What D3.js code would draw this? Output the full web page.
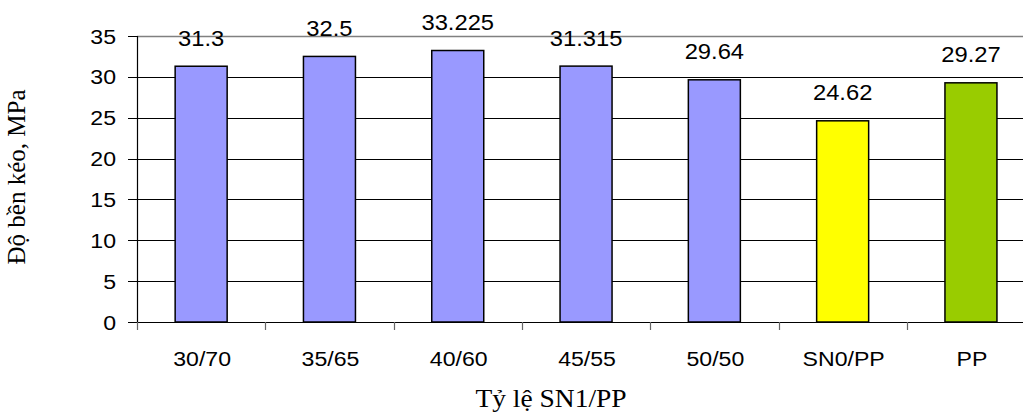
<!DOCTYPE html>
<html>
<head>
<meta charset="utf-8">
<script src="https://cdn.jsdelivr.net/npm/d3@7"></script>
<style>
  html, body { margin: 0; padding: 0; background: #fff; }
  svg { display: block; }
  .sans { font-family: Arial, "Liberation Sans", sans-serif; fill: #000; }
  .serif { font-family: "Times New Roman", "Liberation Serif", serif; fill: #000; }
</style>
</head>
<body>
<svg id="chart" width="1023" height="419"></svg>
<script>
// Tensile strength by SN1/PP blend ratio
const categories = ["30/70", "35/65", "40/60", "45/55", "50/50", "SN0/PP", "PP"];
const values = [31.3, 32.5, 33.225, 31.315, 29.64, 24.62, 29.27];
const valueLabels = ["31.3", "32.5", "33.225", "31.315", "29.64", "24.62", "29.27"];
const barColors = ["#9999FF", "#9999FF", "#9999FF", "#9999FF", "#9999FF", "#FFFF00", "#99CC00"];
const yTicks = [0, 5, 10, 15, 20, 25, 30, 35];
const yTitle = "Độ bền kéo, MPa";
const xTitle = "Tỷ lệ SN1/PP";

const svg = d3.select("#chart");
const plot = { left: 137, top: 36, bottom: 322, band: 128.3 };
plot.right = plot.left + plot.band * categories.length;

const x = d3.scaleBand().domain(categories).range([plot.left, plot.right]).paddingInner(0).paddingOuter(0);
const y = d3.scaleLinear().domain([0, 35]).range([plot.bottom, plot.top]);
const barW = 52;
const sx = 1.1; // wide glyph aspect

function label(g, cls, px, py, txt, size, anchor, stretch) {
  return g.append("text")
    .attr("class", cls)
    .attr("transform", `translate(${px},${py}) scale(${stretch},1)`)
    .attr("text-anchor", anchor)
    .style("font-size", size + "px")
    .text(txt);
}

// horizontal gridlines
svg.append("g").selectAll("line").data(yTicks.filter(t => t > 0 && t < 35)).join("line")
  .attr("x1", plot.left).attr("x2", 1023)
  .attr("y1", d => Math.round(y(d)) + 0.5).attr("y2", d => Math.round(y(d)) + 0.5)
  .attr("stroke", "#000").attr("stroke-width", 1);

// top border of plot area
svg.append("line")
  .attr("x1", plot.left).attr("x2", 1023)
  .attr("y1", plot.top + 0.5).attr("y2", plot.top + 0.5)
  .attr("stroke", "#808080").attr("stroke-width", 1.5);

// bars
svg.append("g").selectAll("rect").data(values).join("rect")
  .attr("x", (d, i) => x(categories[i]) + x.bandwidth() / 2 - barW / 2)
  .attr("width", barW)
  .attr("y", d => y(d))
  .attr("height", d => y(0) - y(d))
  .attr("fill", (d, i) => barColors[i])
  .attr("stroke", "#000").attr("stroke-width", 1.5);

// value labels
const vl = svg.append("g");
values.forEach((v, i) => {
  label(vl, "sans", x(categories[i]) + x.bandwidth() / 2, y(v) - 20.5, valueLabels[i], 22, "middle", 1.08);
});

// y axis
const yAxis = svg.append("g");
yAxis.append("line")
  .attr("x1", plot.left + 0.5).attr("x2", plot.left + 0.5)
  .attr("y1", plot.top).attr("y2", plot.bottom)
  .attr("stroke", "#000").attr("stroke-width", 1.2);
yAxis.selectAll("line.tick").data(yTicks).join("line").attr("class", "tick")
  .attr("x1", plot.left - 9).attr("x2", plot.left)
  .attr("y1", d => Math.round(y(d)) + 0.5).attr("y2", d => Math.round(y(d)) + 0.5)
  .attr("stroke", "#000").attr("stroke-width", 1);
yTicks.forEach(t => {
  label(yAxis, "sans", 116, y(t) + 7.5, String(t), 21, "end", sx);
});

// x axis
const xAxis = svg.append("g");
xAxis.append("line")
  .attr("x1", plot.left).attr("x2", 1023)
  .attr("y1", plot.bottom + 0.5).attr("y2", plot.bottom + 0.5)
  .attr("stroke", "#000").attr("stroke-width", 1.2);
const boundaries = d3.range(categories.length).map(i => x(categories[i]));
xAxis.selectAll("line.tick").data(boundaries).join("line").attr("class", "tick")
  .attr("x1", d => Math.round(d) + 0.5).attr("x2", d => Math.round(d) + 0.5)
  .attr("y1", plot.bottom).attr("y2", plot.bottom + 8)
  .attr("stroke", "#666").attr("stroke-width", 1.2);
categories.forEach(c => {
  label(xAxis, "sans", x(c) + x.bandwidth() / 2 + 1, 366, c, 21, "middle", sx);
});

// axis titles
label(svg, "serif", 551, 407, xTitle, 25, "middle", 1.1);
svg.append("text")
  .attr("class", "serif")
  .attr("transform", "translate(25,177) rotate(-90)")
  .attr("text-anchor", "middle")
  .style("font-size", "25px")
  .text(yTitle);
</script>
</body>
</html>
